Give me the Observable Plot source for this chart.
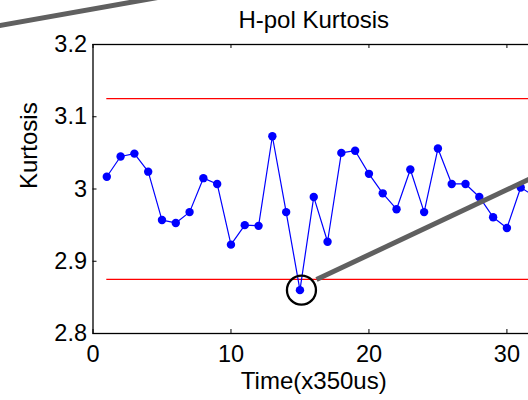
<!DOCTYPE html>
<html>
<head>
<meta charset="utf-8">
<script src="https://cdn.jsdelivr.net/npm/d3@7"></script>
<script src="https://cdn.jsdelivr.net/npm/@observablehq/plot@0.6"></script>
<style>
  html, body { margin: 0; padding: 0; overflow: hidden; background: #fff; }
  #chart svg { display: block; max-width: none; }
</style>
</head>
<body>
<div id="chart"></div>
<script>
// Sample index (time in units of 350 us) and H-pol kurtosis per sample
const samples  = [1, 2, 3, 4, 5, 6, 7, 8, 9, 10, 11, 12, 13, 14, 15, 16,
                  17, 18, 19, 20, 21, 22, 23, 24, 25, 26, 27, 28, 29, 30, 31, 32];
const kurtosis = [3.017, 3.045, 3.049, 3.024, 2.957, 2.953, 2.968, 3.015,
                  3.007, 2.923, 2.950, 2.949, 3.073, 2.968, 2.860, 2.989,
                  2.927, 3.050, 3.053, 3.021, 2.994, 2.972, 3.027, 2.968,
                  3.056, 3.007, 3.007, 2.989, 2.961, 2.946, 3.002, 2.990];

// Detection thresholds around the Gaussian value of 3
const thresholds = [3.125, 2.875];

// Axis ticks and texts
const xTicks = [0, 10, 20, 30];
const yTicks = [2.8, 2.9, 3, 3.1, 3.2];
const titleText = "H-pol Kurtosis";
const xLabel = "Time(x350us)";
const yLabel = "Kurtosis";

// Flagged sample and the callout strokes pointing at it (data units)
const flaggedSample = 15;
const calloutSegments = [
  {x1: 16.2, y1: 2.8747, x2: 34, y2: 3.035},
  {x1: -8,   y1: 3.2219, x2: 5,  y2: 3.2661}
];

const data = samples.map((t, i) => ({t, k: kurtosis[i]}));

const W = 560, H = 400;
const mL = 92.5, mR = 26, mT = 44, mB = 67;
const innerW = W - mL - mR, innerH = H - mT - mB;
const font = "'Liberation Sans', Arial, Helvetica, sans-serif";
const tickFs = 23.5;
const labelFs = 24;
const tickLen = 4;

const chart = Plot.plot({
  width: W,
  height: H,
  marginLeft: mL,
  marginRight: mR,
  marginTop: mT,
  marginBottom: mB,
  style: {fontFamily: font, fontSize: labelFs + "px", color: "#000", background: "#fff"},
  x: {domain: [0, 32], axis: null},
  y: {domain: [2.8, 3.2], axis: null},
  marks: [
    Plot.ruleY(thresholds, {y: d => d, x1: 1, x2: 32, stroke: "#ff0000", strokeWidth: 1.2}),
    Plot.line(data, {x: "t", y: "k", stroke: "#0000ff", strokeWidth: 1.2}),
    Plot.dot(data, {x: "t", y: "k", r: 4.2, fill: "#0000ff", stroke: "none"}),
    Plot.frame({stroke: "#000", strokeWidth: 1.3}),
    // inward-pointing ticks on the left, bottom and top edges
    Plot.tickY(yTicks, {y: d => d, insetRight: innerW - tickLen, stroke: "#000"}),
    Plot.tickX(xTicks, {x: d => d, insetTop: innerH - tickLen, stroke: "#000"}),
    Plot.tickX(xTicks, {x: d => d, insetBottom: innerH - tickLen, stroke: "#000"}),
    Plot.axisY(yTicks, {anchor: "left", tickSize: 0, tickPadding: 6, tickFormat: d => String(d), fontSize: tickFs, label: null}),
    Plot.axisX(xTicks, {anchor: "bottom", tickSize: 0, tickPadding: 12, tickFormat: d => String(d), fontSize: tickFs, label: null}),
    Plot.text([titleText], {frameAnchor: "top", dy: -17, lineAnchor: "bottom", fontSize: labelFs}),
    Plot.text([xLabel], {frameAnchor: "bottom", dy: 38, lineAnchor: "top", fontSize: labelFs}),
    Plot.text([yLabel], {frameAnchor: "left", dx: -56.5, rotate: -90, lineAnchor: "bottom", fontSize: labelFs}),
    // highlight ring and callout strokes
    Plot.dot(data.filter(d => d.t === flaggedSample), {x: "t", y: "k", r: 14.5, dx: 1.5, fill: "none", stroke: "#000", strokeWidth: 2.3}),
    Plot.link(calloutSegments, {x1: "x1", y1: "y1", x2: "x2", y2: "y2", stroke: "#606060", strokeWidth: 5, strokeLinecap: "butt"})
  ]
});

document.getElementById("chart").appendChild(chart);
</script>
</body>
</html>
